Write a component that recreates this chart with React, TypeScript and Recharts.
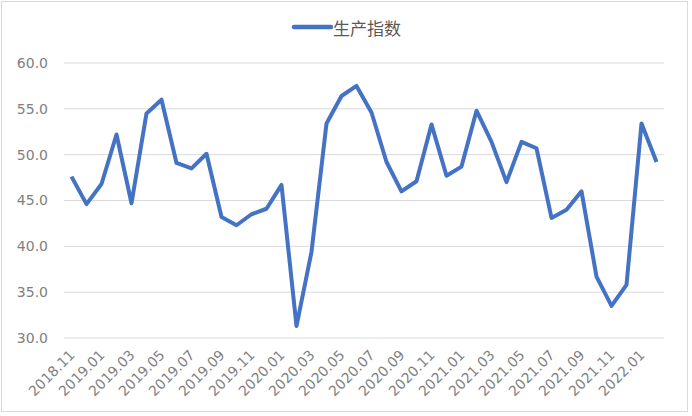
import { LineChart, Line, XAxis, YAxis, CartesianGrid, Legend } from 'recharts';

const months = [
  '2018.11', '2018.12',
  '2019.01', '2019.02', '2019.03', '2019.04', '2019.05', '2019.06',
  '2019.07', '2019.08', '2019.09', '2019.10', '2019.11', '2019.12',
  '2020.01', '2020.02', '2020.03', '2020.04', '2020.05', '2020.06',
  '2020.07', '2020.08', '2020.09', '2020.10', '2020.11', '2020.12',
  '2021.01', '2021.02', '2021.03', '2021.04', '2021.05', '2021.06',
  '2021.07', '2021.08', '2021.09', '2021.10', '2021.11', '2021.12',
  '2022.01', '2022.02',
];

const productionIndex = [
  47.6, 44.6,
  46.8, 52.2, 44.7, 54.5, 56.0, 49.1,
  48.5, 50.1, 43.2, 42.3, 43.5, 44.1,
  46.7, 31.3, 39.4, 53.4, 56.4, 57.5,
  54.6, 49.2, 46.0, 47.1, 53.3, 47.7,
  48.7, 54.8, 51.4, 47.0, 51.4, 50.7,
  43.1, 44.0, 46.0, 36.7, 33.5, 35.8,
  53.4, 49.2,
];

const yTicks = [30, 35, 40, 45, 50, 55, 60];

const chartData = months.map((m, i) => ({ month: m, value: productionIndex[i] }));

const CJK_FONT = '"Noto Sans CJK SC", "Noto Sans", sans-serif';
const NUM_FONT = '"DejaVu Sans", sans-serif';
const TEXT_GRAY = '#808080';

function MonthTick(props: any) {
  const { x, y, payload } = props;
  return (
    <g transform={`translate(${x + 4},${y + 10})`}>
      <text transform="rotate(-45)" textAnchor="end" fontSize={14} fill={TEXT_GRAY} fontFamily={NUM_FONT}>
        {payload.value}
      </text>
    </g>
  );
}

function LegendBox() {
  return (
    <div style={{ display: 'flex', justifyContent: 'center', alignItems: 'center', fontFamily: CJK_FONT, height: 24 }}>
      <svg width={42} height={10}>
        <line x1={3} y1={5} x2={40} y2={5} stroke="#4472C4" strokeWidth={4.5} strokeLinecap="round" />
      </svg>
      <span style={{ fontSize: 17, color: '#595959' }}>生产指数</span>
    </div>
  );
}

export default function App() {
  return (
    <div style={{ position: 'absolute', left: 0, top: 0, width: 692, height: 416, background: '#fff' }}>
      <div
        style={{
          position: 'absolute', left: 1, top: 1, width: 687, height: 411,
          border: '1px solid #d9d9d9', boxSizing: 'border-box',
        }}
      />
      {/* legend box is 24px tall and recharts adds it to the top offset, so 39 + 24 = 63 */}
      <LineChart
        width={692}
        height={416}
        data={chartData}
        margin={{ top: 39, right: 28, bottom: 0, left: 0 }}
        style={{ fontFamily: NUM_FONT, position: 'absolute', left: 0, top: 0 }}
      >
        <CartesianGrid vertical={false} stroke="#d9d9d9" strokeWidth={1} />
        <XAxis
          dataKey="month"
          interval={1}
          tickLine={false}
          axisLine={false}
          height={78}
          padding={{ left: 7.5, right: 7.5 }}
          tick={<MonthTick />}
        />
        <YAxis
          domain={[30, 60]}
          ticks={yTicks}
          width={64}
          tickLine={false}
          axisLine={false}
          tickMargin={10}
          tickFormatter={(v: number) => v.toFixed(1)}
          tick={{ fontSize: 14, fill: TEXT_GRAY, fontFamily: NUM_FONT }}
        />
        <Legend
          verticalAlign="top"
          content={() => <LegendBox />}
          wrapperStyle={{ position: 'absolute', top: 15, left: 0, width: 692, height: 24 }}
        />
        <Line
          type="linear"
          dataKey="value"
          name="生产指数"
          stroke="#4472C4"
          strokeWidth={4}
          dot={false}
          strokeLinejoin="round"
          isAnimationActive={false}
        />
      </LineChart>
    </div>
  );
}
